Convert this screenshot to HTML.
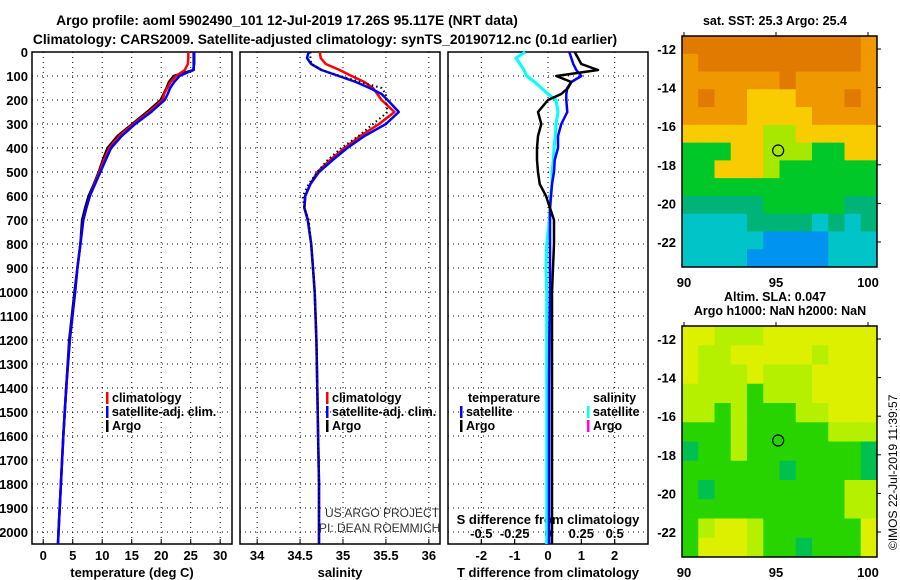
<!DOCTYPE html>
<html><head><meta charset="utf-8">
<style>
body{margin:0;background:#fff;}
svg{display:block;font-family:"Liberation Sans",sans-serif;}
.b{font-weight:bold;}
</style></head>
<body>
<svg id="c" width="900" height="580" viewBox="0 0 900 580" xmlns="http://www.w3.org/2000/svg">
<text x="287" y="25" text-anchor="middle" font-size="13.8" class="b">Argo profile: aoml 5902490_101 12-Jul-2019 17.26S 95.117E (NRT data)</text>
<text x="325" y="44" text-anchor="middle" font-size="13.8" class="b">Climatology: CARS2009. Satellite-adjusted climatology: synTS_20190712.nc (0.1d earlier)</text>
<g id="g"></g>
<text x="775" y="25" text-anchor="middle" font-size="12.5" class="b">sat. SST: 25.3 Argo: 25.4</text>
<text x="775" y="301" text-anchor="middle" font-size="12.5" class="b">Altim. SLA: 0.047</text>
<text x="780" y="315" text-anchor="middle" font-size="12.5" class="b">Argo h1000: NaN h2000: NaN</text>
<text transform="translate(897,550) rotate(-90)" font-size="12">©IMOS 22-Jul-2019 11:39:57</text>
<text x="325" y="517" font-size="12" fill="#333">US ARGO PROJECT</text>
<text x="319" y="532" font-size="12" fill="#333">PI: DEAN ROEMMICH</text>
</svg>
<script>
const depth=[0,25,50,75,100,125,150,175,200,250,300,350,400,450,500,550,600,650,700,800,900,1000,1200,1400,1600,1800,2000,2050];
const tArgo=[25.5,25.5,25.5,25.5,22.1,21.3,20.9,20.4,19.9,17.6,15.1,12.6,10.9,10.1,9.4,8.6,7.7,7.1,6.6,6.3,5.8,5.3,4.4,3.9,3.4,3.0,2.6,2.5];
const tClim=[24.6,24.6,24.5,24.0,22.5,21.6,21.0,20.5,20.2,17.9,15.3,12.9,11.2,10.3,9.5,8.7,7.9,7.3,6.8,6.3,5.8,5.4,4.5,3.9,3.4,3.0,2.6,2.5];
const tSat=[25.6,25.6,25.6,25.4,23.1,22.2,21.5,21.1,20.6,18.3,15.6,13.3,11.5,10.6,9.7,8.8,7.9,7.3,6.8,6.3,5.8,5.4,4.5,3.9,3.4,3.0,2.6,2.5];
const sArgo=[34.62,34.62,34.63,34.75,34.97,35.20,35.45,35.50,35.50,35.52,35.35,35.18,34.98,34.82,34.70,34.60,34.53,34.55,34.60,34.63,34.65,34.67,34.69,34.70,34.71,34.72,34.72,34.72];
const sClim=[34.73,34.74,34.80,34.96,35.10,35.25,35.35,35.40,35.45,35.60,35.42,35.20,35.02,34.85,34.70,34.62,34.56,34.55,34.59,34.63,34.65,34.67,34.69,34.70,34.71,34.72,34.72,34.72];
const sSat=[34.60,34.58,34.63,34.75,34.95,35.15,35.31,35.45,35.52,35.65,35.50,35.25,35.05,34.88,34.72,34.62,34.56,34.55,34.59,34.63,34.65,34.67,34.69,34.70,34.71,34.72,34.72,34.72];
const dTArgo=[0.8,0.9,1.0,1.5,0.25,0.7,0.6,0.4,0.0,-0.3,-0.2,-0.3,-0.33,-0.33,-0.3,-0.25,-0.06,0.06,0.18,0.18,0.15,0.12,0.12,0.12,0.12,0.12,0.12,0.12];
const dTSat=[0.64,0.7,0.76,0.85,1.0,0.7,0.58,0.55,0.55,0.58,0.4,0.3,0.3,0.2,0.18,0.12,0.09,0.06,0.06,0.06,0.06,0.06,0.04,0.03,0.03,0.03,0.03,0.03];
const dSSat=[-0.17,-0.24,-0.21,-0.18,-0.16,-0.1,-0.05,0,0.06,0.075,0.06,0.055,0.045,0.04,0.03,0.03,0.02,0.015,0.01,-0.01,-0.015,-0.01,-0.01,-0.01,-0.01,-0.01,-0.01,-0.01];
const depthTicks=[0,100,200,300,400,500,600,700,800,900,1000,1100,1200,1300,1400,1500,1600,1700,1800,1900,2000];
const tTicks=[0,5,10,15,20,25,30];
const sTicks=[34,34.5,35,35.5,36];
const sTickLabels=["34","34.5","35","35.5","36"];
const dTTicks=[-2,-1,0,1,2];
const dSTicks=[-0.5,-0.25,0,0.25,0.5];
const dSTickLabels=["-0.5","-0.25","0","0.25","0.5"];
const lonTicks=[90,95,100];
const latTicks=[-12,-14,-16,-18,-20,-22];
const sstGrid=["OOOOOOOOOOOo","oOOOOOOOOOOo","ooooooOooooo","oOooYYYoooOo","ooooYYYYoooo","YYYYYLLYYYYY","GGGYYLLLGGYY","GGYYYLGGGGGG","GGGGGGGGGGGG","gggggGGGGGgg","ccccggggcgcg","cccccbbbbccc","ccccbbbbbccc"];
const slaGrid=["YYLLLYYYYYYY","YLLYYYYYLYYY","YLLLYLLLYYYY","LLLLGLLLYYYY","LLGLGGGLLYYY","GGGLGGGGGLLL","gGGLGGGGGGGg","GGGGGGgGGGGg","GgGGGGGGGGLL","GGGGGGGGGGLL","GLYYLGGGGGGY","GYYYLGGgGGGY"];
const NS="http://www.w3.org/2000/svg";
const G=document.getElementById('g');
function mk(t,a,p){const e=document.createElementNS(NS,t);for(const k in a)e.setAttribute(k,a[k]);(p||G).appendChild(e);return e;}
const Y0=52,Y1=544;
const yD=d=>Y0+d/2050*(Y1-Y0);
function panel(x0,x1,xmin,xmax){
 const X=v=>x0+(v-xmin)/(xmax-xmin)*(x1-x0);
 return X;
}
const XT=panel(32,232,-1.9,32);
const XS=panel(240,440,33.8,36.13);
const XdT=panel(448,648,-3,3);
const XdS=panel(448,648,-0.75,0.75);
function frame(x0,x1,gridX,nm){
 const f=mk('rect',{x:x0,y:Y0,width:x1-x0,height:Y1-Y0,fill:'none',stroke:'#000','stroke-width':1.5});
 
 
 depthTicks.forEach(d=>{if(d>0){const l=mk('line',{x1:x0,x2:x1,y1:yD(d),y2:yD(d),stroke:'#000','stroke-dasharray':'1 4'});
 
 }});
 gridX.forEach(x=>{const l=mk('line',{x1:x,x2:x,y1:Y0,y2:Y1,stroke:'#000','stroke-dasharray':'1 4'});
 
 });
}
frame(32,232,tTicks.map(XT),'temperature-panel');
frame(240,440,sTicks.map(XS),'salinity-panel');
frame(448,648,dSTicks.filter((v,i)=>i%2==0).map(XdS),'difference-panel');
depthTicks.forEach(d=>{const t=mk('text',{x:28,y:yD(d)+5,'text-anchor':'end','font-size':13,'font-weight':'bold'});t.textContent=d;
 
 });
function xlabels(arr,labels,X,y,nm){arr.forEach((v,i)=>{const t=mk('text',{x:X(v),y:y,'text-anchor':'middle','font-size':13,'font-weight':'bold'});t.textContent=labels?labels[i]:v;
 
 
 mk('line',{x1:X(v),x2:X(v),y1:Y1,y2:Y1-5,stroke:'#000'});});}
xlabels(tTicks,null,XT,560,'temperature-tick-label');
xlabels(sTicks,sTickLabels,XS,560,'salinity-tick-label');
xlabels(dTTicks,null,XdT,560,'t-diff-tick-label');
xlabels(dSTicks,dSTickLabels,XdS,538,'s-diff-tick-label');
[[132,'temperature (deg C)','temperature-axis-title'],[340,'salinity','salinity-axis-title'],[548,'T difference from climatology','t-diff-axis-title'],[548,'S difference from climatology','s-diff-axis-title']].forEach((a,i)=>{
 const t=mk('text',{x:a[0],y:i==3?524:577,'text-anchor':'middle','font-size':13,'font-weight':'bold'});t.textContent=a[1];
 
 });
function line(vals,X,col,nm,dash,w){
 const pts=vals.map((v,i)=>X(v).toFixed(1)+','+yD(depth[i]).toFixed(1)).join(' ');
 const p=mk('polyline',{points:pts,fill:'none',stroke:col,'stroke-width':w||2.5,'stroke-linejoin':'round'});
 if(dash)p.setAttribute('stroke-dasharray',dash);
 
 
}
line(tArgo,XT,'#000','temperature-argo-line');
line(tClim,XT,'#f00','temperature-climatology-line');
line(tSat,XT,'#00f','temperature-satellite-line');
line(sClim,XS,'#f00','salinity-climatology-line');
line(sSat,XS,'#00f','salinity-satellite-line');
line(sArgo,XS,'#000','salinity-argo-line','1.5 3',2);
line(dSSat,XdS,'#0ff','s-diff-satellite-line',null,3);
line(dTSat,XdT,'#00f','t-diff-satellite-line');
line(dTArgo,XdT,'#000','t-diff-argo-line');
function legend(x,y,items,nm){items.forEach((it,i)=>{
 mk('rect',{x:x,y:y+i*14-10,width:2.5,height:12,fill:it[0]});
 const t=mk('text',{x:x+6,y:y+i*14,'font-size':12.5,'font-weight':'bold'});t.textContent=it[1];
 
 });}
legend(106,402,[['#f00','climatology'],['#00f','satellite-adj. clim.'],['#000','Argo']],'temperature-legend');
legend(326,402,[['#f00','climatology'],['#00f','satellite-adj. clim.'],['#000','Argo']],'salinity-legend');
{const t=mk('text',{x:468,y:402,'font-size':12.5,'font-weight':'bold'});t.textContent='temperature';
 
 }
{const t=mk('text',{x:593,y:402,'font-size':12.5,'font-weight':'bold'});t.textContent='salinity';
 
 }
legend(460,416,[['#00f','satellite'],['#000','Argo']],'t-diff-legend');
legend(587,416,[['#0ff','satellite'],['#f0f','Argo']],'s-diff-legend');
const colSST={O:'#e07a00',o:'#f09800',Y:'#f8cc00',L:'#a8e800',G:'#00c828',g:'#00b478',c:'#00c4c8',b:'#0094f0'};
const colSLA={Y:'#dcf000',L:'#b4f000',G:'#28d400',g:'#00c050'};
function map(y0,y1,grid,cols,nm,latA,latB){
 const x0=682,x1=877;
 const LX=v=>684+(v-90)*18.4;
 const LY=v=>latA+(-12-v)*(latB-latA)/10;
 const rows=grid.length,cw=(x1-x0)/12,rh=(y1-y0)/rows;
 const g=mk('g',{});
 
 
 grid.forEach((r,i)=>{for(let j=0;j<12;j++)mk('rect',{x:x0+j*cw,y:y0+i*rh,width:cw+0.5,height:rh+0.5,fill:cols[r[j]]},g);});
 mk('rect',{x:x0,y:y0,width:x1-x0,height:y1-y0,fill:'none',stroke:'#000','stroke-width':1.5});
 const c=mk('circle',{cx:LX(95.117),cy:LY(-17.26),r:5.5,fill:'none',stroke:'#000','stroke-width':1.2});
 
 
 lonTicks.forEach(v=>{const t=mk('text',{x:LX(v),y:y1+20,'text-anchor':'middle','font-size':13,'font-weight':'bold'});t.textContent=v;
  
  
  mk('line',{x1:LX(v),x2:LX(v),y1:y0,y2:y0-4,stroke:'#000'});});
 latTicks.forEach(v=>{const t=mk('text',{x:676,y:LY(v)+5,'text-anchor':'end','font-size':13,'font-weight':'bold'});t.textContent=v;
  
  
  mk('line',{x1:x1,x2:x1+4,y1:LY(v),y2:LY(v),stroke:'#000'});});
}
map(36,267,sstGrid,colSST,'sst-map',49,242);
map(326,557,slaGrid,colSLA,'sla-map',339,532);
</script>
</body></html>
